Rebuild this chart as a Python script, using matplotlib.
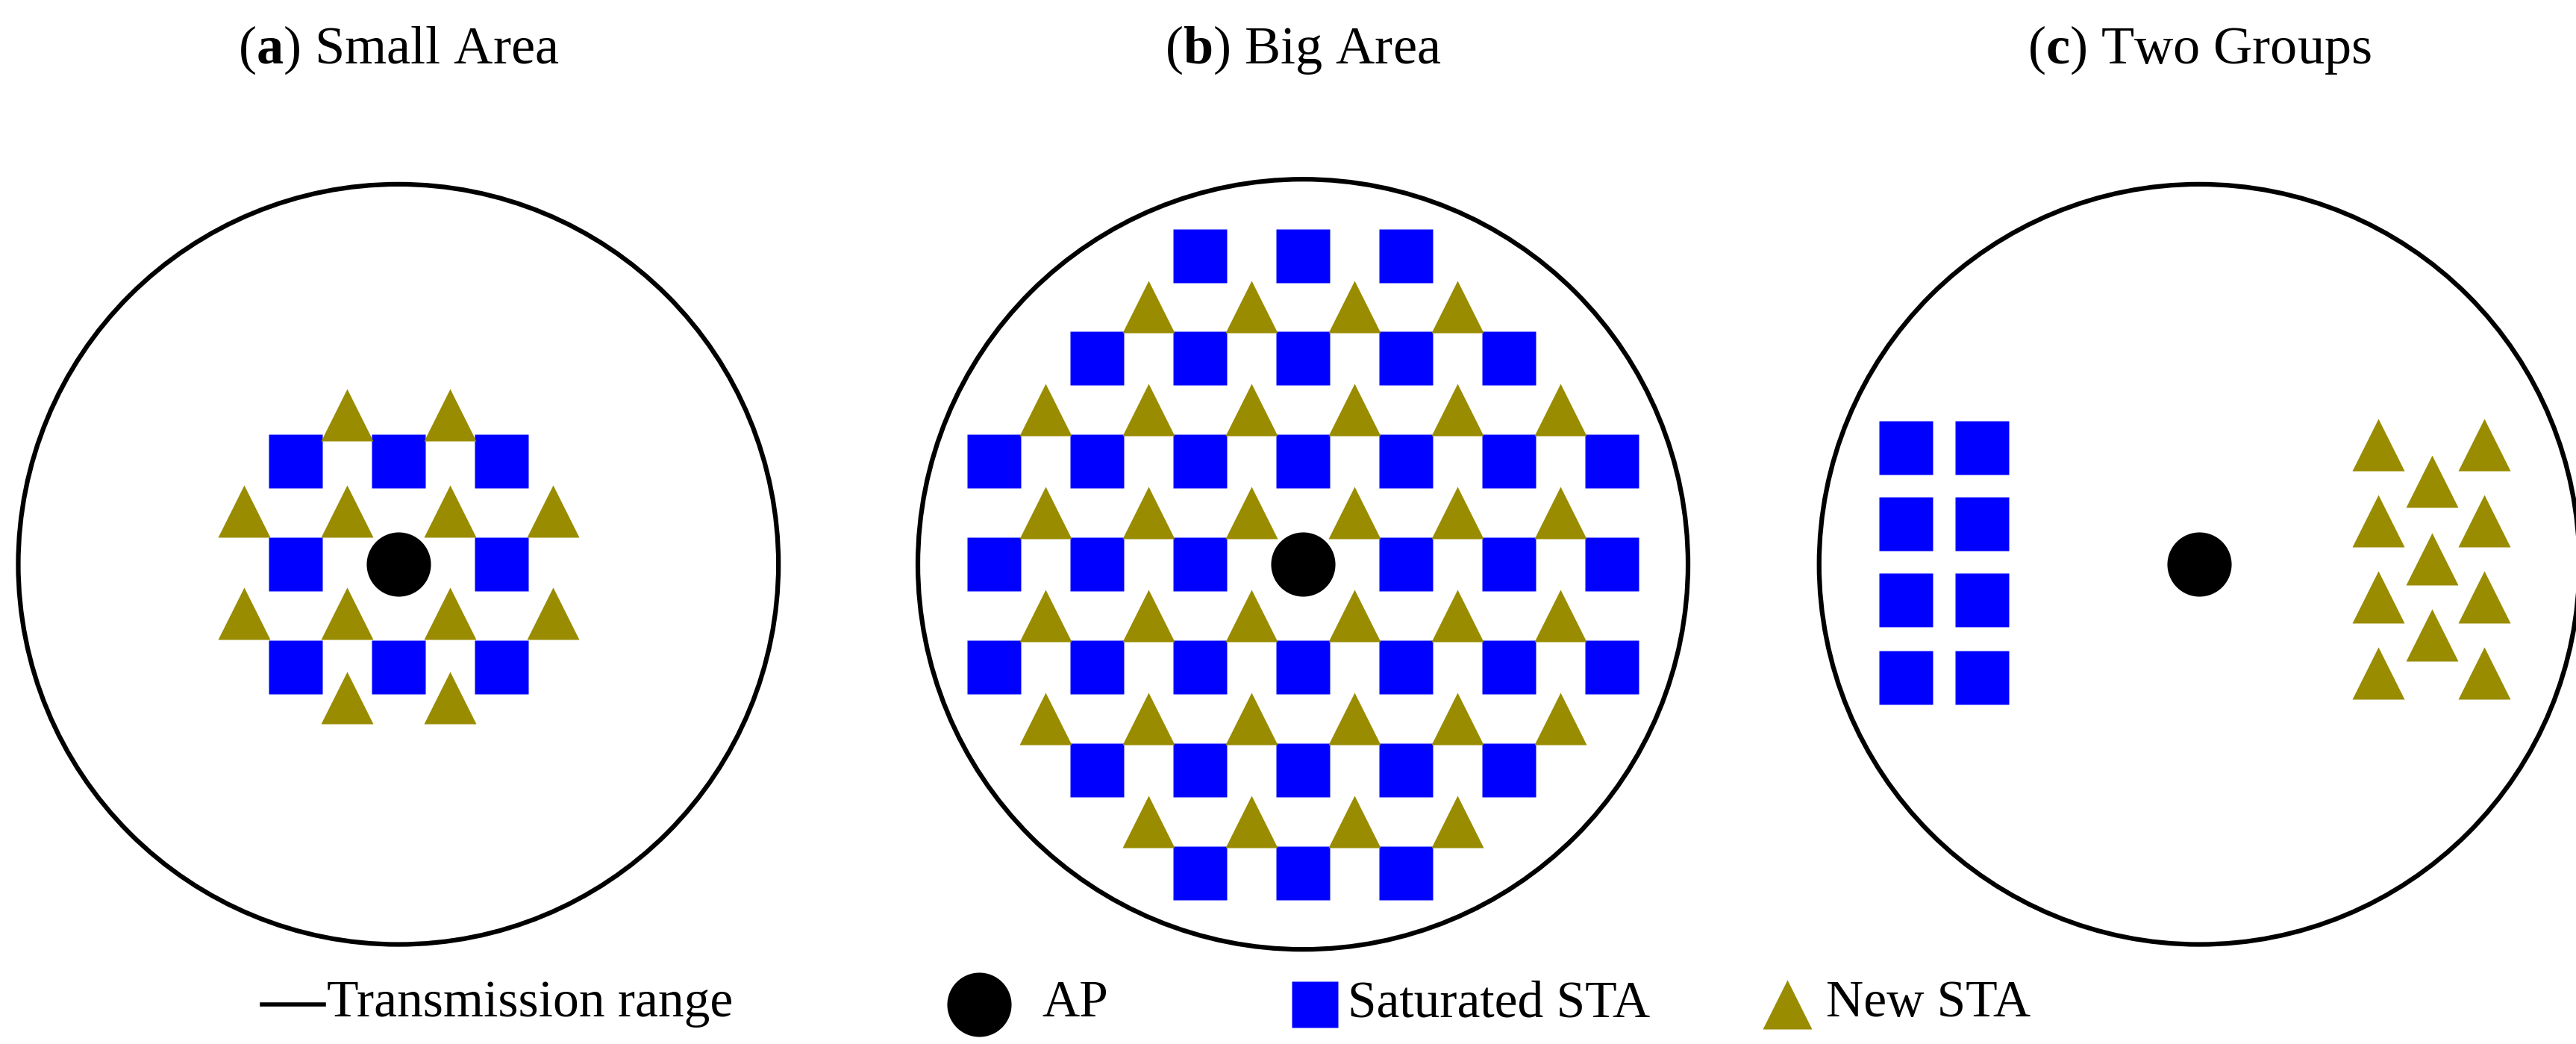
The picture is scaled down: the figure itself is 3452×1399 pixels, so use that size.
import matplotlib
matplotlib.use('Agg')
import matplotlib.pyplot as plt
from matplotlib.patches import Circle

plt.rcParams['font.family'] = 'Liberation Serif'
plt.rcParams['mathtext.fontset'] = 'custom'
plt.rcParams['mathtext.rm'] = 'Liberation Serif'
plt.rcParams['mathtext.bf'] = 'Liberation Serif:bold'

# panel layout in display px (image ~1552 x 629), grid unit in px
titles = [('a', 'Small Area'), ('b', 'Big Area'), ('c', 'Two Groups')]
centers = [(240, 340), (785, 340), (1325, 340)]
radii = [229, 232, 229]
unit = 62

# panel a
sq_a = [(-1, 1), (0, 1), (1, 1), (-1, 0), (1, 0), (-1, -1), (0, -1), (1, -1)]
tri_a = [(-0.5, 1.45), (0.5, 1.45),
         (-1.5, 0.52), (-0.5, 0.52), (0.5, 0.52), (1.5, 0.52),
         (-1.5, -0.48), (-0.5, -0.48), (0.5, -0.48), (1.5, -0.48),
         (-0.5, -1.3), (0.5, -1.3)]

# panel b
sq_b = []
for y, xs in [(3, range(-1, 2)), (2, range(-2, 3)), (1, range(-3, 4)), (0, range(-3, 4)),
              (-1, range(-3, 4)), (-2, range(-2, 3)), (-3, range(-1, 2))]:
    for x in xs:
        if (x, y) != (0, 0):
            sq_b.append((x, y))
tri_b = []
for y, xs in [(2.5, [-1.5, -0.5, 0.5, 1.5]), (1.5, [-2.5, -1.5, -0.5, 0.5, 1.5, 2.5]),
              (0.5, [-2.5, -1.5, -0.5, 0.5, 1.5, 2.5]), (-0.5, [-2.5, -1.5, -0.5, 0.5, 1.5, 2.5]),
              (-1.5, [-2.5, -1.5, -0.5, 0.5, 1.5, 2.5]), (-2.5, [-1.5, -0.5, 0.5, 1.5])]:
    for x in xs:
        tri_b.append((x, y))

# panel c
sq_c = [(x, y) for x in (-2.85, -2.11) for y in (1.13, 0.39, -0.35, -1.10)]
tri_c = ([(1.74, y) for y in (1.16, 0.42, -0.32, -1.06)] +
         [(2.26, y) for y in (0.81, 0.05, -0.69)] +
         [(2.77, y) for y in (1.16, 0.42, -0.32, -1.06)])

squares = [sq_a, sq_b, sq_c]
triangles = [tri_a, tri_b, tri_c]

blue = '#0000FF'
olive = '#998C00'

fig = plt.figure(figsize=(34.52, 13.99), dpi=100)
ax = fig.add_axes([0, 0, 1, 1])
ax.set_xlim(0, 1552)
ax.set_ylim(629, 0)
ax.axis('off')

for (lab, name), (cx, cy), r, sq, tr in zip(titles, centers, radii, squares, triangles):
    ax.add_patch(Circle((cx, cy), r, fill=False, lw=4.5, ec='black'))
    ax.plot([cx + x * unit for x, y in sq], [cy - y * unit for x, y in sq], 's',
            color=blue, ms=52, mec='none')
    ax.plot([cx + x * unit for x, y in tr], [cy - y * unit for x, y in tr], '^',
            color=olive, ms=50, mec='none')
    ax.plot([cx], [cy], 'o', color='black', ms=62, mec='none')
    ax.text(cx, 30, r'($\mathbf{%s}$) %s' % (lab, name), ha='center', va='center', fontsize=52)

# legend
ly = 605
ax.plot([158, 195], [ly, ly], color='black', lw=4)
ax.text(197, ly, 'Transmission range', ha='left', va='center', fontsize=50)
ax.plot([590], [ly], 'o', color='black', ms=62, mec='none')
ax.text(628, ly, 'AP', ha='left', va='center', fontsize=50)
ax.plot([792], [ly], 's', color=blue, ms=44, mec='none')
ax.text(812, ly, 'Saturated STA', ha='left', va='center', fontsize=50)
ax.plot([1077], [ly], '^', color=olive, ms=48, mec='none')
ax.text(1100, ly, 'New STA', ha='left', va='center', fontsize=50)

fig.savefig('out.png', dpi=100)
